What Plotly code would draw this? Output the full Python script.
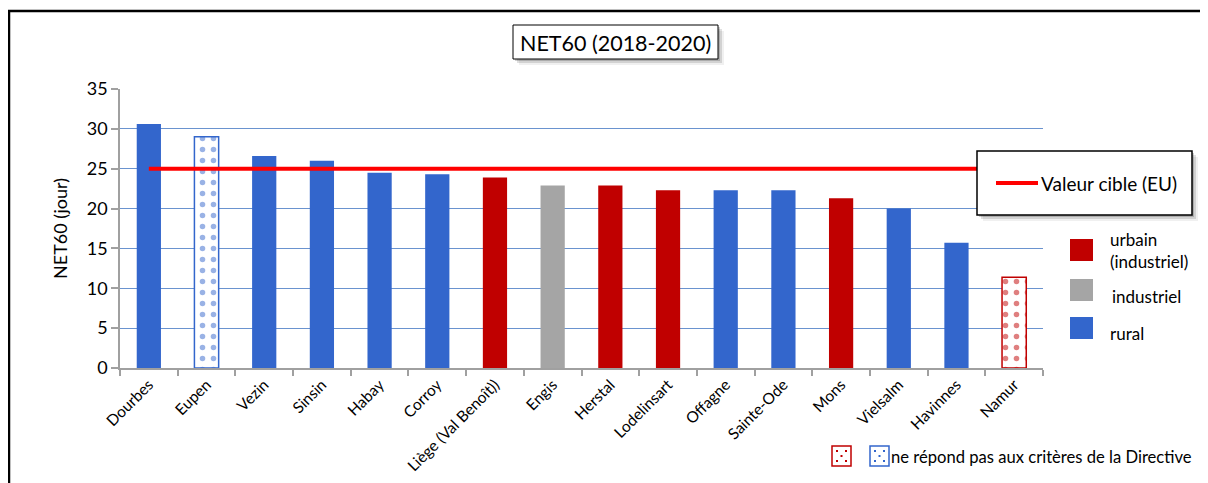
import plotly.graph_objects as go

# ---------------- data ----------------
stations = ["Dourbes", "Eupen", "Vezin", "Sinsin", "Habay", "Corroy",
            "Liège (Val Benoît))", "Engis", "Herstal", "Lodelinsart", "Offagne",
            "Sainte-Ode", "Mons", "Vielsalm", "Havinnes", "Namur"]
net60 = [30.6, 29.0, 26.6, 26.0, 24.5, 24.3, 23.9, 22.9, 22.9, 22.3, 22.3,
         22.3, 21.3, 20.0, 15.7, 11.4]
station_type = ["rural", "rural", "rural", "rural", "rural", "rural",
                "urbain", "industriel", "urbain", "urbain", "rural",
                "rural", "urbain", "rural", "rural", "urbain"]
meets_directive = [True, False, True, True, True, True, True, True, True, True,
                   True, True, True, True, True, False]
target_value = 25
y_ticks = [0, 5, 10, 15, 20, 25, 30, 35]

# ---------------- styles ----------------
COLORS = {"rural": "#3366CC", "urbain": "#C00000", "industriel": "#A5A5A5"}
FONT = "Lato"
OFF = 8                      # page body margin
W, H = 1200, 475             # figure size
# plot area in page pixels: x 120..1043, y 89..368
L, T = 120 - OFF, 89 - OFF
R = W - (1043 - OFF)
B = H - (368 - OFF)
PW, PH = W - L - R, H - T - B


def px(x):  # page pixel -> paper
    return (x - OFF - L) / PW


def py(y):
    return (H - B - (y - OFF)) / PH


fig = go.Figure()

# solid bars (stations meeting the directive criteria)
sx = [s for s, ok in zip(stations, meets_directive) if ok]
sy = [v for v, ok in zip(net60, meets_directive) if ok]
sc = [COLORS[t] for t, ok in zip(station_type, meets_directive) if ok]
fig.add_trace(go.Bar(x=sx, y=sy, marker=dict(color=sc, line=dict(width=0)),
                     showlegend=False, hoverinfo="x+y"))

# dotted bars (stations not meeting the criteria), one trace per type colour
for key in ["rural", "urbain", "industriel"]:
    bx = [s for s, ok, t in zip(stations, meets_directive, station_type) if not ok and t == key]
    by = [v for v, ok, t in zip(net60, meets_directive, station_type) if not ok and t == key]
    if not bx:
        continue
    c = COLORS[key]
    fig.add_trace(go.Bar(
        x=bx, y=by,
        marker=dict(color="white", line=dict(color=c, width=1.5),
                    pattern=dict(shape=".", fgcolor=c, bgcolor="white",
                                 size=11, solidity=0.2, fillmode="overlay")),
        showlegend=False, hoverinfo="x+y"))

fig.add_trace(go.Scatter(
    x=[stations[0], stations[-1]], y=[target_value, target_value],
    mode="lines", line=dict(color="#FF0000", width=4),
    name="Valeur cible (EU)", showlegend=False,
))

shapes = []
annotations = []

# outer frame
shapes.append(dict(type="rect", xref="paper", yref="paper",
                   x0=px(9), x1=px(1240), y0=py(11), y1=py(500),
                   line=dict(color="black", width=2.5), fillcolor="rgba(0,0,0,0)",
                   layer="above"))


def shadow_box(x0, y0, x1, y1, lw=1):
    for off, a in [(6, 0.06), (4, 0.12), (2, 0.18)]:
        shapes.append(dict(type="rect", xref="paper", yref="paper",
                           x0=px(x0 + off), x1=px(x1 + off), y0=py(y0 + off), y1=py(y1 + off),
                           line=dict(width=0), fillcolor=f"rgba(0,0,0,{a})", layer="above"))
    shapes.append(dict(type="rect", xref="paper", yref="paper",
                       x0=px(x0), x1=px(x1), y0=py(y0), y1=py(y1),
                       line=dict(color="black", width=lw), fillcolor="white", layer="above"))


# title box
shadow_box(513, 25, 718, 59, lw=1)
annotations.append(dict(text="NET60 (2018-2020)", xref="paper", yref="paper",
                        x=px(615.5), y=py(43), xanchor="center", yanchor="middle",
                        showarrow=False, font=dict(family=FONT, size=21.5, color="black")))

# target legend box
shadow_box(977, 151, 1192, 215, lw=1.5)
shapes.append(dict(type="line", xref="paper", yref="paper",
                   x0=px(996), x1=px(1038), y0=py(183), y1=py(183),
                   line=dict(color="#FF0000", width=4), layer="above"))
annotations.append(dict(text="Valeur cible (EU)", xref="paper", yref="paper",
                        x=px(1039), y=py(183), xanchor="left", yanchor="middle",
                        showarrow=False, font=dict(family=FONT, size=19, color="black")))

# category legend
cat_legend = [("urbain", 239, "urbain<br>(industriel)", 250, 1108),
              ("industriel", 279, "industriel", 296, 1110),
              ("rural", 317, "rural", 333, 1108)]
for key, ytop, label, ylab, xlab in cat_legend:
    shapes.append(dict(type="rect", xref="paper", yref="paper",
                       x0=px(1070), x1=px(1093), y0=py(ytop), y1=py(ytop + 22),
                       line=dict(width=0), fillcolor=COLORS[key], layer="above"))
    annotations.append(dict(text=label, xref="paper", yref="paper",
                            x=px(xlab), y=py(ylab),
                            xanchor="left", yanchor="middle", align="left",
                            showarrow=False,
                            font=dict(family=FONT, size=17, color="black")))

# bottom legend (dotted swatches)
for x0, key in [(832, "urbain"), (870, "rural")]:
    c = COLORS[key]
    shapes.append(dict(type="rect", xref="paper", yref="paper",
                       x0=px(x0), x1=px(x0 + 19), y0=py(446), y1=py(466),
                       line=dict(color=c, width=1.5), fillcolor="white", layer="above"))
    for dx, dy in [(4, 4), (13, 4), (8.5, 9), (4, 14), (13, 14)]:
        shapes.append(dict(type="rect", xref="paper", yref="paper",
                           x0=px(x0 + dx), x1=px(x0 + dx + 2),
                           y0=py(446 + dy), y1=py(446 + dy + 2),
                           line=dict(width=0), fillcolor=c, layer="above"))
annotations.append(dict(text="ne répond pas aux critères de la Directive",
                        xref="paper", yref="paper", x=px(889), y=py(457),
                        xanchor="left", yanchor="middle", showarrow=False,
                        font=dict(family=FONT, size=16.6, color="black")))

fig.update_layout(
    width=W, height=H,
    margin=dict(l=L, r=R, t=T, b=B),
    paper_bgcolor="white", plot_bgcolor="white",
    font=dict(family=FONT, color="black"),
    bargap=0.58, barmode="overlay",
    shapes=shapes, annotations=annotations,
    showlegend=False,
)
fig.update_xaxes(
    type="category", categoryorder="array", categoryarray=stations,
    automargin=False,
    showline=True, linecolor="#A0A0A0", linewidth=1.5,
    ticks="outside", tickson="boundaries", ticklen=6, tickcolor="#A0A0A0", tickwidth=1.5,
    tickangle=-45, tickfont=dict(family=FONT, size=15.5, color="black"),
    showgrid=False,
)
fig.update_yaxes(
    range=[0, 35], tickvals=y_ticks, automargin=False,
    showline=True, linecolor="#A0A0A0", linewidth=1.5,
    ticks="outside", ticklen=7, tickcolor="#A0A0A0", tickwidth=1.5,
    tickfont=dict(family=FONT, size=18, color="black"),
    showgrid=True, gridcolor="#6A93CF", gridwidth=1.2, zeroline=False,
    title=dict(text="NET60 (jour)", font=dict(family=FONT, size=18, color="black"), standoff=14),
)

fig.write_html("out.html")
